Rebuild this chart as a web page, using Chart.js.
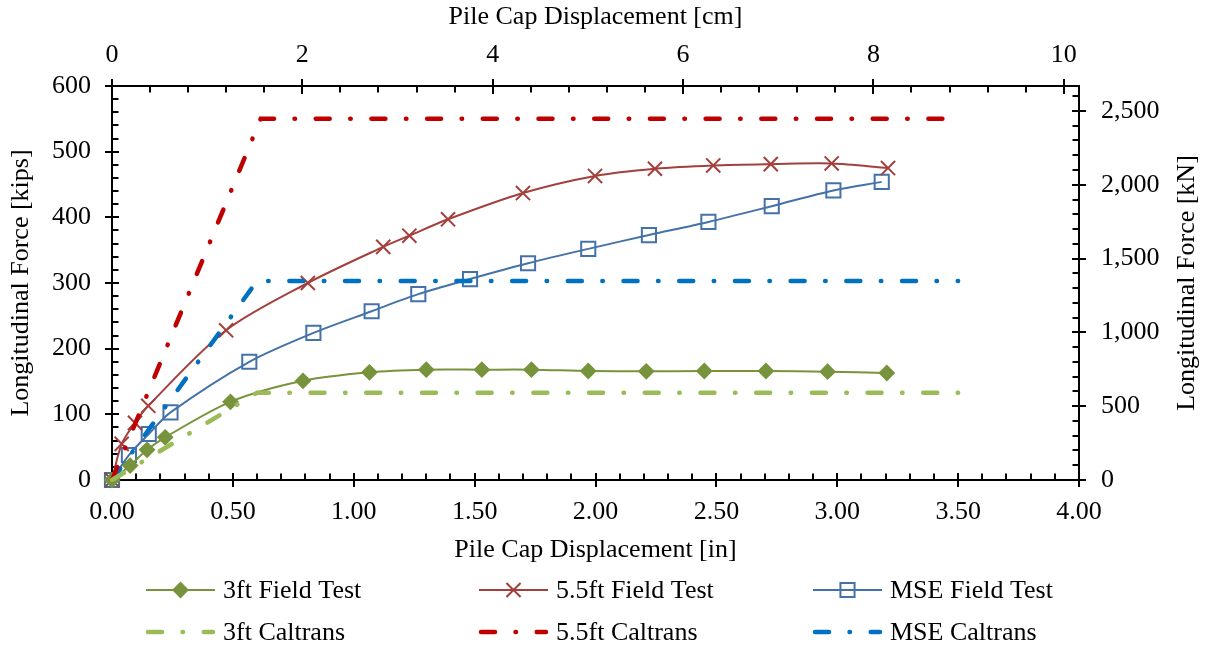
<!DOCTYPE html>
<html>
<head>
<meta charset="utf-8">
<script src="https://cdn.jsdelivr.net/npm/chart.js@4.4.1/dist/chart.umd.min.js"></script>
<style>
  html, body { margin: 0; padding: 0; background: #ffffff; }
  canvas { display: block; }
</style>
</head>
<body>
<canvas id="chart" width="1210" height="647"></canvas>
<script>
// Unit conversions for the secondary axes
const KIPS_TO_KN = 4.448222;
const IN_TO_CM = 2.54;

// 3 ft field test: displacement [in], force [kips]
const disp3ft  = [0, 0.075, 0.145, 0.22, 0.49, 0.79, 1.065, 1.30, 1.53, 1.735, 1.97, 2.21, 2.45, 2.705, 2.96, 3.205];
const force3ft = [0, 22, 46, 65, 119, 151, 164, 168, 168, 168, 166, 165.5, 166, 166, 165, 163];

// 5.5 ft field test
const disp55  = [0, 0.04, 0.095, 0.15, 0.472, 0.81, 1.122, 1.23, 1.39, 1.70, 1.998, 2.246, 2.487, 2.725, 2.977, 3.21];
const force55 = [0, 55, 87, 113, 228, 300, 355, 372, 397, 437, 463, 474, 479, 481, 482, 475];

// MSE field test
const dispMSE  = [0, 0.07, 0.152, 0.242, 0.568, 0.833, 1.074, 1.267, 1.481, 1.721, 1.970, 2.221, 2.467, 2.729, 2.984, 3.184];
const forceMSE = [0, 38, 70, 103, 180, 224, 257, 283, 306, 330, 352, 373, 393, 417, 441, 454];

// Caltrans bilinear design curves
const dispCal3ft  = [0, 0.60, 3.50];
const forceCal3ft = [0, 133, 133];
const dispCal55   = [0, 0.615, 3.50];
const forceCal55  = [0, 550, 550];
const dispCalMSE  = [0, 0.60, 3.50];
const forceCalMSE = [0, 303, 303];

// Axis ticks
const ticksIn   = [0, 0.5, 1, 1.5, 2, 2.5, 3, 3.5, 4];
const ticksCm   = [0, 2, 4, 6, 8, 10];
const ticksKips = [0, 100, 200, 300, 400, 500, 600];
const ticksKN   = [0, 500, 1000, 1500, 2000, 2500];

const GREEN = '#77933C', RED = '#A3403D', BLUE = '#4472A8';
const LGREEN = '#9BBB59', DRED = '#C00000', DBLUE = '#0070C0';
const CAL_DASH = [14, 20.5, 0.5, 20.7];

const FONT_FAMILY = '"Liberation Serif", "Times New Roman", serif';
const FONT_SIZE = 26;
const RIGHT_TITLE = 'Longitudinal Force [kN]';

function pts(xs, ys) { return xs.map((x, i) => ({ x: x, y: ys[i] })); }

function fieldSet(label, xs, ys, color, style, radius, fill) {
  return {
    label: label, data: pts(xs, ys), showLine: true, tension: 0.3,
    borderColor: color, borderWidth: 2,
    pointStyle: style, pointRadius: radius, pointHoverRadius: radius,
    pointBorderColor: color, pointBackgroundColor: fill, pointBorderWidth: 2,
    clip: false, order: 1
  };
}
function caltransSet(label, xs, ys, color) {
  return {
    label: label, data: pts(xs, ys), showLine: true, tension: 0,
    borderColor: color, borderWidth: 4.5, borderDash: CAL_DASH,
    borderCapStyle: 'round', pointRadius: 0, pointHoverRadius: 0,
    clip: false, order: 0
  };
}

// Axis frame with crossing major ticks and inside minor ticks
const frameTicks = {
  id: 'frameTicks',
  beforeDatasetsDraw(chart) {
    const { ctx, chartArea: a, scales } = chart;
    ctx.save();
    ctx.strokeStyle = '#000';
    ctx.lineWidth = 2;
    ctx.lineCap = 'butt';
    const line = (x1, y1, x2, y2) => { ctx.beginPath(); ctx.moveTo(x1, y1); ctx.lineTo(x2, y2); ctx.stroke(); };
    const near = (v, arr) => arr.some(t => Math.abs(t - v) < 1e-6);
    const MAJ = 7, MIN = 6.5;

    // bottom (inches)
    for (let i = 0; i <= 40; i++) {
      const v = i / 10, px = Math.round(scales.x.getPixelForValue(v));
      if (near(v, ticksIn)) line(px, a.bottom - MAJ, px, a.bottom + MAJ);
      else line(px, a.bottom, px, a.bottom - MIN);
    }
    // top (cm)
    for (let i = 0; i * 0.4 <= scales.x2.max + 1e-6; i++) {
      const v = Math.round(i * 0.4 * 10) / 10, px = Math.round(scales.x2.getPixelForValue(v));
      if (near(v, ticksCm)) line(px, a.top - MAJ, px, a.top + MAJ + 1);
      else line(px, a.top, px, a.top + MIN);
    }
    // left (kips)
    for (let v = 0; v <= 600; v += 20) {
      const py = Math.round(scales.y.getPixelForValue(v));
      if (near(v, ticksKips)) line(a.left - MAJ, py, a.left + MAJ, py);
      else line(a.left, py, a.left + MIN, py);
    }
    // right (kN)
    for (let v = 0; v <= scales.y2.max; v += 100) {
      const py = Math.round(scales.y2.getPixelForValue(v));
      if (near(v, ticksKN)) line(a.right - MAJ, py, a.right + MAJ, py);
      else line(a.right - MIN, py, a.right, py);
    }
    ctx.strokeRect(a.left, a.top, a.right - a.left, a.bottom - a.top);
    ctx.restore();
  }
};

// Right-hand axis title, reading bottom to top like the left one
const rightTitle = {
  id: 'rightTitle',
  afterDraw(chart) {
    const { ctx, chartArea: a } = chart;
    ctx.save();
    ctx.translate(1187, (a.top + a.bottom) / 2);
    ctx.rotate(-Math.PI / 2);
    ctx.font = FONT_SIZE + 'px ' + FONT_FAMILY;
    ctx.fillStyle = '#000';
    ctx.textAlign = 'center';
    ctx.textBaseline = 'middle';
    ctx.fillText(RIGHT_TITLE, 0, 0);
    ctx.restore();
  }
};

// Two-row, three-column legend below the plot
function drawMarker(ctx, style, x, y, r) {
  ctx.beginPath();
  if (style === 'rectRot') {
    ctx.moveTo(x - r, y); ctx.lineTo(x, y - r); ctx.lineTo(x + r, y); ctx.lineTo(x, y + r); ctx.closePath();
    ctx.fill(); ctx.stroke();
  } else if (style === 'rect') {
    const s = r * Math.SQRT1_2;
    ctx.rect(x - s, y - s, 2 * s, 2 * s); ctx.stroke();
  } else if (style === 'crossRot') {
    const s = r * Math.SQRT1_2;
    ctx.moveTo(x - s, y - s); ctx.lineTo(x + s, y + s);
    ctx.moveTo(x - s, y + s); ctx.lineTo(x + s, y - s); ctx.stroke();
  }
}
const gridLegend = {
  id: 'gridLegend',
  afterDraw(chart) {
    const ctx = chart.ctx;
    const cols = [146, 479, 813], rows = [590, 632], symLen = 69;
    chart.data.datasets.forEach((ds, i) => {
      const x0 = cols[i % 3], y = rows[Math.floor(i / 3)];
      ctx.save();
      ctx.strokeStyle = ds.borderColor;
      ctx.lineWidth = ds.borderWidth;
      if (ds.borderDash) {
        ctx.lineCap = 'round';
        ctx.setLineDash(ds.borderDash);
        ctx.beginPath(); ctx.moveTo(x0 + 2, y); ctx.lineTo(x0 + symLen - 2, y); ctx.stroke();
        ctx.setLineDash([]);
      } else {
        ctx.beginPath(); ctx.moveTo(x0, y); ctx.lineTo(x0 + symLen, y); ctx.stroke();
        ctx.fillStyle = ds.pointBackgroundColor;
        ctx.lineWidth = ds.pointBorderWidth;
        drawMarker(ctx, ds.pointStyle, x0 + symLen / 2, y, ds.pointRadius);
      }
      ctx.fillStyle = '#000';
      ctx.font = FONT_SIZE + 'px ' + FONT_FAMILY;
      ctx.textBaseline = 'middle';
      ctx.textAlign = 'left';
      ctx.fillText(ds.label, x0 + symLen + 8, y + 1);
      ctx.restore();
    });
  }
};

Chart.defaults.font.family = FONT_FAMILY;
Chart.defaults.font.size = FONT_SIZE;
Chart.defaults.color = '#000';

const setTicks = arr => scale => { scale.ticks = arr.map(v => ({ value: v })); };
const fixSize = (prop, px) => scale => { scale[prop] = px; };
const noGrid = { display: false, drawTicks: false };
const noBorder = { display: false };

new Chart(document.getElementById('chart'), {
  type: 'scatter',
  data: {
    datasets: [
      fieldSet('3ft Field Test', disp3ft, force3ft, GREEN, 'rectRot', 7, GREEN),
      fieldSet('5.5ft Field Test', disp55, force55, RED, 'crossRot', 10, RED),
      fieldSet('MSE Field Test', dispMSE, forceMSE, BLUE, 'rect', 10, 'rgba(0,0,0,0)'),
      caltransSet('3ft Caltrans', dispCal3ft, forceCal3ft, LGREEN),
      caltransSet('5.5ft Caltrans', dispCal55, forceCal55, DRED),
      caltransSet('MSE Caltrans', dispCalMSE, forceCalMSE, DBLUE)
    ]
  },
  options: {
    responsive: false,
    animation: false,
    devicePixelRatio: 1,
    layout: { padding: { left: 0, right: 0, top: 0, bottom: 81 } },
    plugins: { legend: { display: false }, tooltip: { enabled: false } },
    scales: {
      x: {
        type: 'linear', position: 'bottom', min: 0, max: 4,
        grid: noGrid, border: noBorder,
        afterBuildTicks: setTicks(ticksIn), afterFit: fixSize('height', 86),
        ticks: { padding: 17, maxRotation: 0, callback: v => v.toFixed(2) },
        title: { display: true, text: 'Pile Cap Displacement [in]', padding: { top: 0, bottom: 0 } }
      },
      x2: {
        type: 'linear', position: 'top', min: 0, max: 4 * IN_TO_CM,
        grid: noGrid, border: noBorder,
        afterBuildTicks: setTicks(ticksCm), afterFit: fixSize('height', 86),
        ticks: { padding: 15, maxRotation: 0, callback: v => String(v) },
        title: { display: true, text: 'Pile Cap Displacement [cm]', padding: { top: 2, bottom: 0 } }
      },
      y: {
        type: 'linear', position: 'left', min: 0, max: 600,
        grid: noGrid, border: noBorder,
        afterBuildTicks: setTicks(ticksKips), afterFit: fixSize('width', 112),
        ticks: { padding: 21, callback: v => String(v) },
        title: { display: true, text: 'Longitudinal Force [kips]', padding: { top: 6, bottom: 0 } }
      },
      y2: {
        type: 'linear', position: 'right', min: 0, max: 600 * KIPS_TO_KN,
        grid: noGrid, border: noBorder,
        afterBuildTicks: setTicks(ticksKN), afterFit: fixSize('width', 131),
        ticks: { padding: 22, callback: v => v.toLocaleString('en-US') },
        title: { display: false }
      }
    }
  },
  plugins: [frameTicks, gridLegend, rightTitle]
});
</script>
</body>
</html>
